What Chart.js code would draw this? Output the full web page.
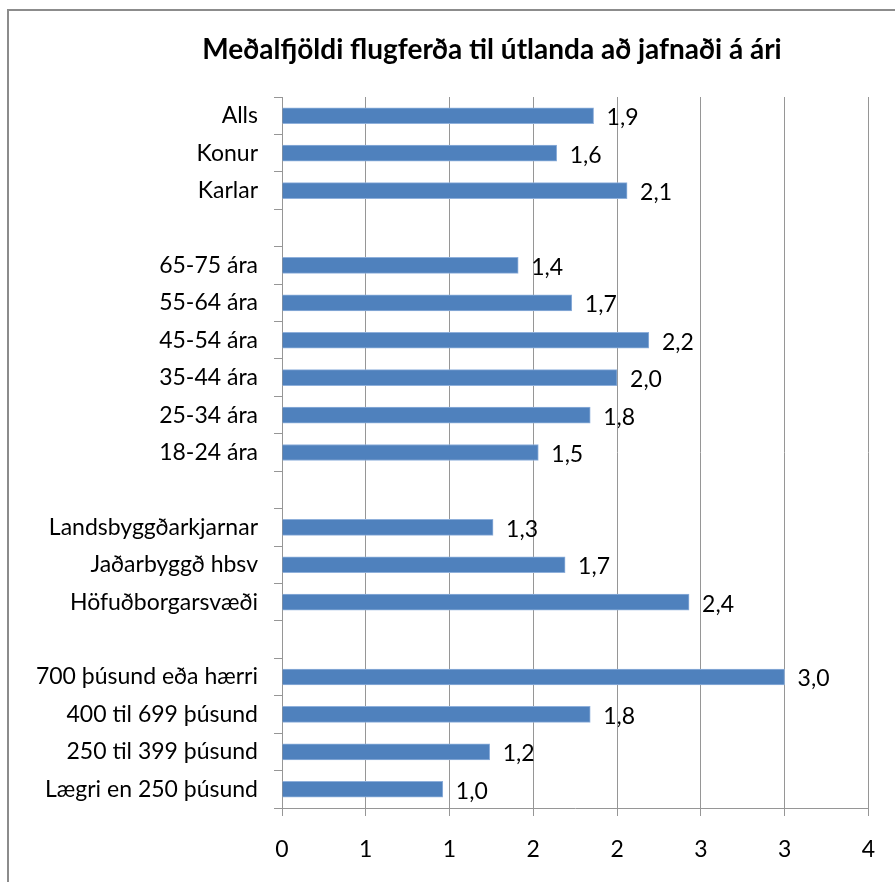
<!DOCTYPE html>
<html>
<head>
<meta charset="utf-8">
<script src="https://cdn.jsdelivr.net/npm/chart.js@4.4.1/dist/chart.umd.min.js"></script>
<style>
  html, body { margin: 0; padding: 0; background: #fff; overflow: hidden; }
  #wrap { position: relative; width: 895px; height: 882px; }
  #frame {
    position: absolute; left: 7px; top: 9px; width: 900px; height: 900px;
    border-left: 2px solid #8c8c8c; border-top: 2px solid #8c8c8c;
  }
  canvas { position: absolute; left: 0; top: 0; }
</style>
</head>
<body>
<div id="wrap">
  <div id="frame"></div>
  <canvas id="chart" width="895" height="882"></canvas>
</div>
<script>
// Chart data
var chartTitle = 'Meðalfjöldi flugferða til útlanda að jafnaði á ári';
var categories = [
    'Alls', 'Konur', 'Karlar', '',
    '65-75 ára', '55-64 ára', '45-54 ára', '35-44 ára', '25-34 ára', '18-24 ára', '',
    'Landsbyggðarkjarnar', 'Jaðarbyggð hbsv', 'Höfuðborgarsvæði', '',
    '700 þúsund eða hærri', '400 til 699 þúsund', '250 til 399 þúsund', 'Lægri en 250 þúsund'
];
var values = [
    1.86, 1.64, 2.06, null,
    1.41, 1.73, 2.19, 2.00, 1.84, 1.53, null,
    1.26, 1.69, 2.43, null,
    3.00, 1.84, 1.24, 0.96
];
var axisMin = 0;
var axisMax = 3.5;
var axisStep = 0.5;

var FONT = 'Lato, "Open Sans", sans-serif';
var BAR_COLOR = '#4f81bd';
var GRID_COLOR = '#969696';

// draws the title above the plot
var titlePlugin = {
    id: 'excelTitle',
    afterDraw: function(chart) {
        var ctx = chart.ctx;
        ctx.save();
        ctx.font = 'bold 28px ' + FONT;
        ctx.fillStyle = '#000';
        ctx.textAlign = 'center';
        ctx.textBaseline = 'middle';
        ctx.fillText(chartTitle, 492, 50);
        ctx.restore();
    }
};

// value labels to the right of each bar, with a decimal comma
var valueLabels = {
    id: 'valueLabels',
    afterDatasetsDraw: function(chart) {
        var ctx = chart.ctx;
        var meta = chart.getDatasetMeta(0);
        ctx.save();
        ctx.font = '23px ' + FONT;
        ctx.fillStyle = '#000';
        ctx.textAlign = 'left';
        ctx.textBaseline = 'middle';
        meta.data.forEach(function(bar, i) {
            var v = values[i];
            if (v === null) {
                return;
            }
            ctx.fillText(v.toFixed(1).replace('.', ','), bar.x + 13, bar.y + 2);
        });
        ctx.restore();
    }
};

new Chart(document.getElementById('chart'), {
    type: 'bar',
    data: {
        labels: categories,
        datasets: [{
            data: values,
            backgroundColor: BAR_COLOR,
            borderColor: '#8fb0db',
            borderWidth: 1,
            barThickness: 16
        }]
    },
    options: {
        indexAxis: 'y',
        responsive: false,
        animation: false,
        layout: {
            padding: {top: 97, right: 24, bottom: 0, left: 0}
        },
        plugins: {
            legend: {display: false},
            title: {display: false},
            tooltip: {enabled: false}
        },
        scales: {
            x: {
                min: axisMin,
                max: axisMax,
                afterFit: function(scale) {
                    scale.height = 74;
                },
                grid: {
                    color: GRID_COLOR,
                    lineWidth: 1,
                    tickLength: 8,
                    drawTicks: true
                },
                border: {color: GRID_COLOR, width: 1},
                ticks: {
                    stepSize: axisStep,
                    padding: 20,
                    color: '#000',
                    font: {family: FONT, size: 23},
                    callback: function(v) {
                        return Math.round(v);
                    }
                }
            },
            y: {
                afterFit: function(scale) {
                    scale.width = 282;
                },
                grid: {
                    color: GRID_COLOR,
                    drawOnChartArea: false,
                    tickLength: 8,
                    offset: true
                },
                border: {color: GRID_COLOR, width: 1},
                ticks: {
                    padding: 16,
                    color: '#000',
                    autoSkip: false,
                    font: {family: FONT, size: 23}
                }
            }
        }
    },
    plugins: [titlePlugin, valueLabels]
});
</script>
</body>
</html>
